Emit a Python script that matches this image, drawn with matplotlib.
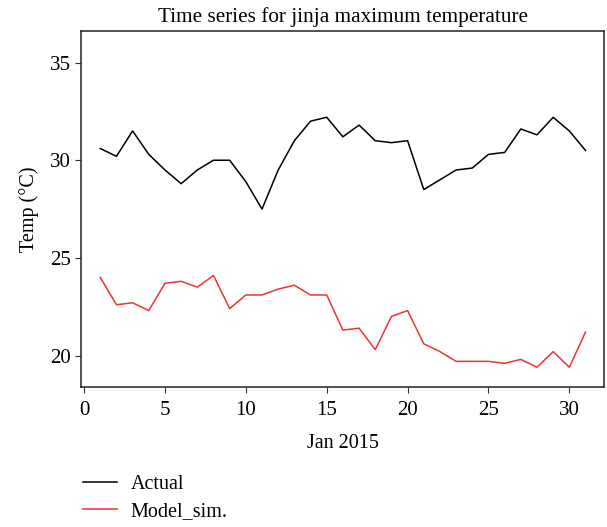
import numpy as np
import matplotlib.pyplot as plt

plt.rcParams['font.family'] = ['Liberation Serif', 'DejaVu Serif']

days = np.arange(1, 32)
actual = [30.6, 30.2, 31.5, 30.3, 29.5, 28.8, 29.5, 30.0, 30.0, 28.9,
          27.5, 29.5, 31.0, 32.0, 32.2, 31.2, 31.8, 31.0, 30.9, 31.0,
          28.5, 29.0, 29.5, 29.6, 30.3, 30.4, 31.6, 31.3, 32.2, 31.5, 30.5]
model_sim = [24.0, 22.6, 22.7, 22.3, 23.7, 23.8, 23.5, 24.1, 22.4, 23.1,
             23.1, 23.4, 23.6, 23.1, 23.1, 21.3, 21.4, 20.3, 22.0, 22.3,
             20.6, 20.2, 19.7, 19.7, 19.7, 19.6, 19.8, 19.4, 20.2, 19.4, 21.2]

fig = plt.figure(figsize=(6.07, 5.27), dpi=100)
ax = fig.add_axes([0.134, 0.265, 0.861, 0.677])

l1, = ax.plot(days, actual, color='black', lw=1.1, label='Actual')
l2, = ax.plot(days, model_sim, color='#ee3333', lw=1.1, label='Model_sim.')

ax.set_xlim(-0.17, 32.14)
ax.set_ylim(18.37, 36.64)
ax.set_xticks([0, 5, 10, 15, 20, 25, 30])
ax.set_yticks([20, 25, 30, 35])
ax.tick_params(direction='out', length=4, labelsize=15, color='#333333')
ax.tick_params(axis='x', pad=6)
for s in ax.spines.values():
    s.set_linewidth(1.1)
    s.set_color('#222222')

ax.set_title('Time series for jinja maximum temperature', fontsize=15.3, pad=6)
ax.set_xlabel('Jan 2015', fontsize=14.5, labelpad=10)
ax.set_ylabel('Temp (°C)', fontsize=14.5, labelpad=8)

fig.legend(handles=[l1, l2], loc='upper left', bbox_to_anchor=(0.137, 0.098),
           frameon=False, fontsize=14.5, handlelength=1.7, handletextpad=0.65,
           labelspacing=0.35, borderpad=0, borderaxespad=0)

fig.savefig('out.png', dpi=100)
